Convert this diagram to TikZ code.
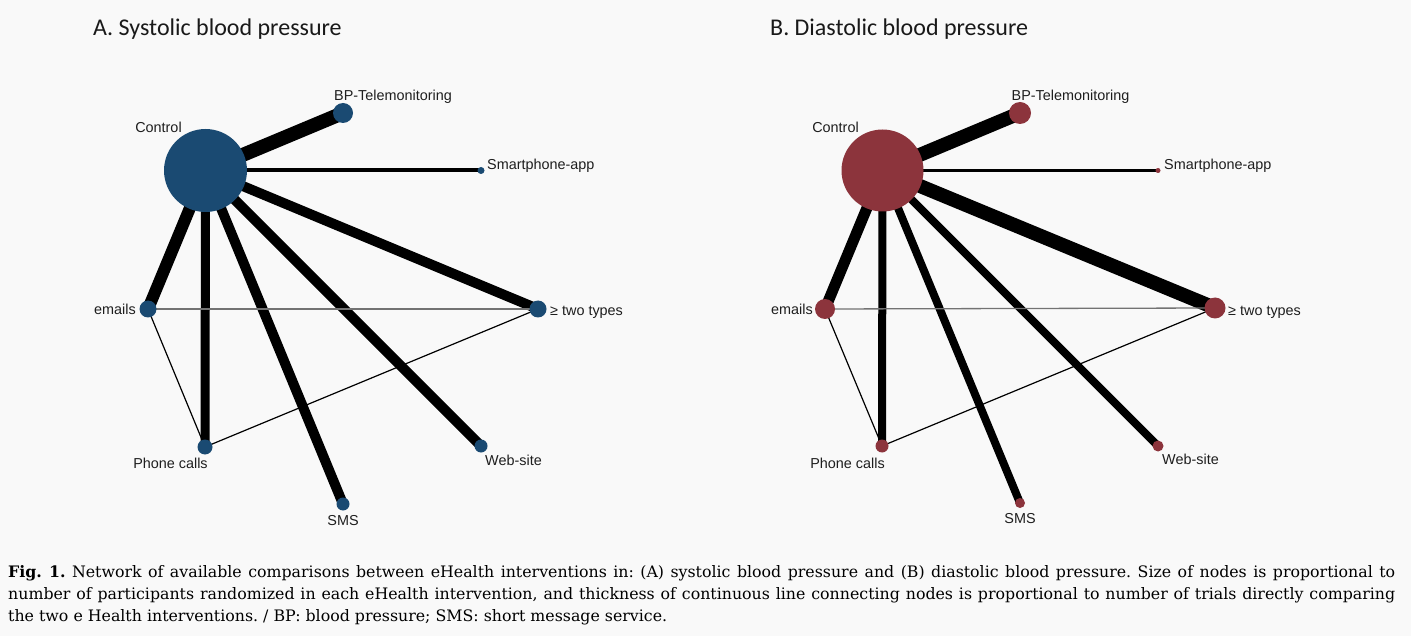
\documentclass[tikz,border=0pt]{standalone}
\usepackage{fontspec}
\setmainfont{DejaVu Serif}
\newfontfamily\labfont{Liberation Sans}
\newfontfamily\titfont{Carlito}
\newfontfamily\capfont{DejaVu Serif}
\frenchspacing
\definecolor{bgc}{RGB}{249,249,249}
\definecolor{blueN}{RGB}{26,74,114}
\definecolor{redN}{RGB}{140,52,60}
\definecolor{labc}{RGB}{30,30,30}
\pgfdeclarelayer{edgelayer}
\pgfsetlayers{edgelayer,main}
\tikzset{
  netnode/.style={circle, fill=#1, inner sep=0pt, draw=none},
  lab/.style={font=\labfont\fontsize{14.4}{16}\selectfont, text=labc, inner sep=0pt},
  ttl/.style={font=\titfont\fontsize{24}{26}\selectfont, text=black!90, inner sep=0pt, anchor=base west},
  capline/.style={font=\capfont\fontsize{15.8}{22}\selectfont, text=black, inner sep=0pt, anchor=base west},
  edgeline/.style={line width=#1, draw=black},
  thinline/.style={line width=1.2pt, draw=black},
  grayline/.style={line width=1.3pt, draw=black!55}
}
\begin{document}
\begin{tikzpicture}[x=1pt,y=-1pt]
\begin{pgfonlayer}{edgelayer}
\fill[bgc] (0,0) rectangle (1411,636);
\end{pgfonlayer}
\useasboundingbox (0,0) rectangle (1411,636);

% titles
\node[ttl] (tA) at (93,36) {A. Systolic blood pressure};
\node[ttl] (tB) at (770,36) {B. Diastolic blood pressure};

% ---------- Panel A ----------
\node[netnode=blueN, minimum size=83pt] (Ac) at (205.5,170.5) {};
\node[netnode=blueN, minimum size=20pt] (Abp) at (343,113) {};
\node[netnode=blueN, minimum size=7pt] (Asm) at (481,170.5) {};
\node[netnode=blueN, minimum size=17pt] (Atw) at (538,309) {};
\node[netnode=blueN, minimum size=17pt] (Aem) at (148,309) {};
\node[netnode=blueN, minimum size=15pt] (Aph) at (205,447) {};
\node[netnode=blueN, minimum size=13pt] (Asms) at (343,504) {};
\node[netnode=blueN, minimum size=13pt] (Aweb) at (481,446) {};

\begin{pgfonlayer}{edgelayer}
\draw[edgeline=14pt] (Ac.center) -- (Abp.center);
\draw[edgeline=4pt] (Ac.center) -- (Asm.center);
\draw[edgeline=10pt] (Ac.center) -- (Atw.center);
\draw[edgeline=12pt] (Ac.center) -- (Aem.center);
\draw[edgeline=9pt] (Ac.center) -- (Aph.center);
\draw[edgeline=10pt] (Ac.center) -- (Asms.center);
\draw[edgeline=10pt] (Ac.center) -- (Aweb.center);
\draw[grayline] (Aem.center) -- (Atw.center);
\draw[thinline] (Aem.center) -- (Aph.center);
\draw[thinline] (Aph.center) -- (Atw.center);
\end{pgfonlayer}

\node[lab, anchor=base] (lAc) at (158.5,133) {Control};
\node[lab, anchor=base] (lAbp) at (393,101) {BP-Telemonitoring};
\node[lab, anchor=base west] (lAsm) at (487,170) {Smartphone-app};
\node[lab, anchor=base west] (lAtw) at (550,316) {≥ two types};
\node[lab, anchor=base east] (lAem) at (136,315) {emails};
\node[lab, anchor=base] (lAph) at (170.5,468) {Phone calls};
\node[lab, anchor=base] (lAsms) at (343,525) {SMS};
\node[lab, anchor=base] (lAweb) at (513.5,465) {Web-site};

% ---------- Panel B ----------
\node[netnode=redN, minimum size=82pt] (Bc) at (882.5,170.5) {};
\node[netnode=redN, minimum size=22pt] (Bbp) at (1020,113) {};
\node[netnode=redN, minimum size=5pt] (Bsm) at (1158,170.5) {};
\node[netnode=redN, minimum size=21pt] (Btw) at (1215,308) {};
\node[netnode=redN, minimum size=20pt] (Bem) at (825,309) {};
\node[netnode=redN, minimum size=13pt] (Bph) at (882,446) {};
\node[netnode=redN, minimum size=10pt] (Bsms) at (1020,503) {};
\node[netnode=redN, minimum size=11pt] (Bweb) at (1158,446) {};

\begin{pgfonlayer}{edgelayer}
\draw[edgeline=14pt] (Bc.center) -- (Bbp.center);
\draw[edgeline=2.5pt] (Bc.center) -- (Bsm.center);
\draw[edgeline=14pt] (Bc.center) -- (Btw.center);
\draw[edgeline=11pt] (Bc.center) -- (Bem.center);
\draw[edgeline=8pt] (Bc.center) -- (Bph.center);
\draw[edgeline=8pt] (Bc.center) -- (Bsms.center);
\draw[edgeline=8pt] (Bc.center) -- (Bweb.center);
\draw[grayline] (Bem.center) -- (Btw.center);
\draw[thinline] (Bem.center) -- (Bph.center);
\draw[thinline] (Bph.center) -- (Btw.center);
\end{pgfonlayer}

\node[lab, anchor=base] (lBc) at (835.5,133) {Control};
\node[lab, anchor=base] (lBbp) at (1070.5,101) {BP-Telemonitoring};
\node[lab, anchor=base west] (lBsm) at (1164,170) {Smartphone-app};
\node[lab, anchor=base west] (lBtw) at (1228,316) {≥ two types};
\node[lab, anchor=base east] (lBem) at (813,315) {emails};
\node[lab, anchor=base] (lBph) at (847.5,468) {Phone calls};
\node[lab, anchor=base] (lBsms) at (1020,523) {SMS};
\node[lab, anchor=base] (lBweb) at (1190.5,464) {Web-site};

% ---------- caption ----------
\node[capline] (cap1) at (8,577) {\makebox[1387pt][s]{\textbf{Fig. 1.} Network of available comparisons between eHealth interventions in: (A) systolic blood pressure and (B) diastolic blood pressure. Size of nodes is proportional to}};
\node[capline] (cap2) at (8,599) {\makebox[1387pt][s]{number of participants randomized in each eHealth intervention, and thickness of continuous line connecting nodes is proportional to number of trials directly comparing}};
\node[capline] (cap3) at (8,621) {the two e Health interventions. / BP: blood pressure; SMS: short message service.};
\end{tikzpicture}
\end{document}
